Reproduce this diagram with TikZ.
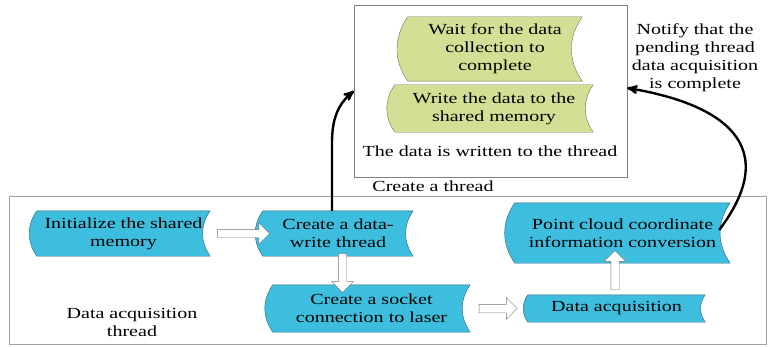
\documentclass[tikz,border=0pt]{standalone}
\usepackage{fontspec}
\setmainfont[FakeStretch=1.3]{Liberation Serif}
\usetikzlibrary{calc}
\usetikzlibrary{arrows}
\usetikzlibrary{shapes.arrows}
\usetikzlibrary{backgrounds}

\definecolor{procblue}{RGB}{62,190,222}
\definecolor{procline}{RGB}{45,95,125}
\definecolor{procgreen}{RGB}{211,223,148}
\definecolor{greenline}{RGB}{110,115,90}
\definecolor{framegray}{RGB}{160,160,160}

\tikzset{
  proc/.style={inner sep=0pt, align=center},
  bluebox/.style={draw=procline, fill=procblue, thin},
  greenbox/.style={draw=greenline, fill=procgreen, thin},
  blockarrow/.style={single arrow, draw=black!55, fill=white, thin, inner sep=4pt, single arrow head extend=6.5pt},
  flow/.style={black, line width=2.4pt, ->, >=stealth'}
}

\begin{document}
\begin{tikzpicture}[x=1pt, y=1pt, every node/.style={font=\fontsize{15.4}{18}\selectfont}]
\useasboundingbox (0,0) rectangle (770,346);

% frames
\draw[framegray] (9,2) rectangle (766,150);
\node[draw=gray, minimum width=273pt, minimum height=172pt] (wbox) at (490.5,255) {};

% data acquisition thread
\node[proc, minimum width=173pt, minimum height=45pt] (init) at (123.5,112.5) {Initialize the shared\\memory};
\node[proc, minimum width=150pt, minimum height=45pt] (dwt) at (338,112.5) {Create a data-\\write thread};
\node[proc, minimum width=197pt, minimum height=47pt] (sock) at (371.5,37.5) {Create a socket\\connection to laser};
\node[proc, minimum width=177pt, minimum height=27pt] (acq) at (616.5,37.5) {Data acquisition};
\node[proc, minimum width=215pt, minimum height=60pt] (pcc) at (622.5,113) {Point cloud coordinate\\information conversion};

% write thread
\node[proc, minimum width=174pt, minimum height=64pt] (wait) at (495,297) {Wait for the data\\collection to\\complete};
\node[proc, minimum width=198pt, minimum height=47pt] (wshm) at (494,237.5) {Write the data to the\\shared memory};

\node (wlabel) at (490,195) {The data is written to the thread};
\node (ctlabel) at (433,160) {Create a thread};
\node[align=center] (dalabel) at (132,23.5) {Data acquisition\\thread};
\node[align=center] (notify) at (695,288) {Notify that the\\pending thread\\data acquisition\\is complete};

\begin{scope}[on background layer]
\foreach \n/\s in {init/bluebox, dwt/bluebox, sock/bluebox, acq/bluebox, pcc/bluebox, wait/greenbox, wshm/greenbox}
  \draw[\s] (\n.north west) -- (\n.north east) to[out=-125,in=125] (\n.south east)
    -- (\n.south west) to[out=125,in=-125] (\n.north west) -- cycle;
\end{scope}

% block arrows
\node[blockarrow, minimum height=52pt] (ar1) at ($(init.east)!0.5!(dwt.west)+(5,0)$) {};
\node[blockarrow, minimum height=39pt, rotate=-90] (ar2) at ($(dwt.south)+(4.5,-14.5)$) {};
\node[blockarrow, minimum height=38pt] (ar3) at ($(sock.east)!0.5!(acq.west)-(3,0)$) {};
\node[blockarrow, minimum height=39pt, rotate=90] (ar4) at ($(acq.north)+(-1.5,22.5)$) {};

% notifications
\draw[flow] ([xshift=-6pt]dwt.north) -- ++(0,68) to[out=90,in=-140] (wbox.west);
\draw[flow] ([xshift=-11pt,yshift=3pt]pcc.east) .. controls (790,210) and (705,245) .. ([yshift=3pt]wbox.east);
\end{tikzpicture}
\end{document}
